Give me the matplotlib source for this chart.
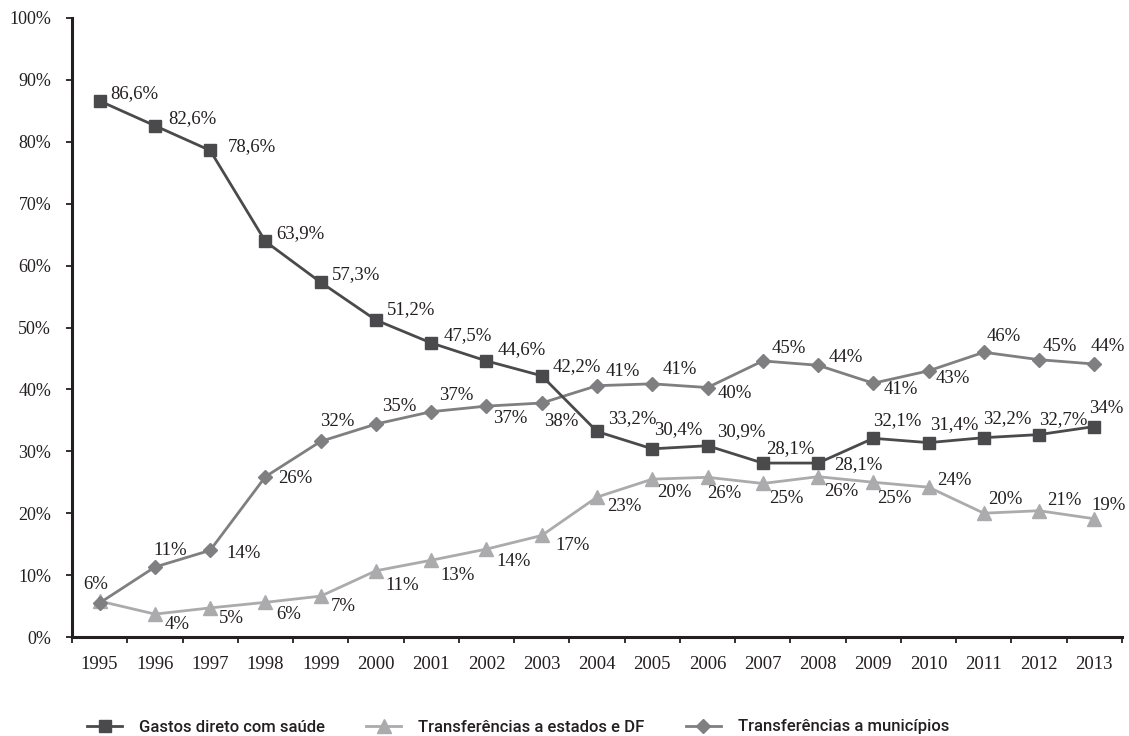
import numpy as np
import matplotlib
matplotlib.use("Agg")
import matplotlib.pyplot as plt
from matplotlib.ticker import FixedLocator, MultipleLocator

anos = ["1995", "1996", "1997", "1998", "1999", "2000", "2001", "2002", "2003", "2004",
        "2005", "2006", "2007", "2008", "2009", "2010", "2011", "2012", "2013"]

gastos = [86.6, 82.6, 78.6, 63.9, 57.3, 51.2, 47.5, 44.6, 42.2, 33.2,
          30.4, 30.9, 28.1, 28.1, 32.1, 31.4, 32.2, 32.7, 34.0]
gastos_txt = ["86,6%", "82,6%", "78,6%", "63,9%", "57,3%", "51,2%", "47,5%", "44,6%", "42,2%", "33,2%",
              "30,4%", "30,9%", "28,1%", "28,1%", "32,1%", "31,4%", "32,2%", "32,7%", "34%"]

estados = [5.8, 3.7, 4.7, 5.6, 6.6, 10.7, 12.4, 14.2, 16.4, 22.6,
           25.5, 25.8, 24.8, 25.9, 25.0, 24.2, 20.0, 20.4, 19.1]
estados_txt = ["", "4%", "5%", "6%", "7%", "11%", "13%", "14%", "17%", "23%",
               "20%", "26%", "25%", "26%", "25%", "24%", "20%", "21%", "19%"]

municipios = [5.5, 11.3, 14.0, 25.9, 31.6, 34.4, 36.4, 37.3, 37.8, 40.6,
              40.9, 40.3, 44.6, 43.9, 41.0, 43.0, 46.0, 44.8, 44.1]
municipios_txt = ["6%", "11%", "14%", "26%", "32%", "35%", "37%", "37%", "38%", "41%",
                  "41%", "40%", "45%", "44%", "41%", "43%", "46%", "45%", "44%"]

# label offsets in pixels (dx right, dy up)
off_g = [(11, 7), (13, 7), (18, 4), (11, 8), (11, 8), (11, 10), (12, 7), (11, 11), (11, 9), (11, 13),
         (2, 19), (10, 14), (3, 14), (16, -2), (0, 18), (1, 18), (-1, 19), (0, 15), (-5, 18)]
off_e = [(0, 0), (10, -10), (9, -11), (11, -12), (10, -10), (9, -15), (9, -15), (10, -12), (14, -10), (10, -9),
         (5, -13), (0, -16), (6, -15), (6, -15), (4, -16), (9, 7), (4, 14), (8, 10), (-3, 13)]
off_m = [(-16, 18), (-1, 17), (16, -3), (13, -2), (-1, 20), (6, 18), (8, 16), (7, -12), (2, -18), (9, 14),
         (10, 14), (10, -6), (9, 12), (11, 8), (10, -6), (7, -8), (3, 16), (4, 13), (-4, 18)]

cor_g = "#4a4a4c"
cor_e = "#ababad"
cor_m = "#7f7f81"
serif = "Liberation Serif"

fig = plt.figure(figsize=(11.29, 7.36), dpi=100)
ax = fig.add_axes([72 / 1129, 99 / 736, 1050 / 1129, 619 / 736])

x = np.arange(len(anos))
l1, = ax.plot(x, gastos, color=cor_g, lw=2, marker="s", ms=8, zorder=4)
l2, = ax.plot(x, estados, color=cor_e, lw=2, marker="^", ms=10, zorder=2)
l3, = ax.plot(x, municipios, color=cor_m, lw=2, marker="D", ms=7, zorder=3)

for vals, txts, offs in [(gastos, gastos_txt, off_g), (estados, estados_txt, off_e),
                         (municipios, municipios_txt, off_m)]:
    for i, (v, t, o) in enumerate(zip(vals, txts, offs)):
        if t:
            ax.annotate(t, (i, v), xytext=o, textcoords="offset pixels",
                        ha="left", va="center", fontsize=13.5, family=serif, color="#231f20")

ax.set_xlim(-0.5, len(anos) - 0.5)
ax.set_ylim(0, 100)
ax.set_xticks(x)
ax.set_xticklabels(anos, family=serif, fontsize=13.5, color="#231f20")
ax.xaxis.set_minor_locator(FixedLocator(np.arange(-0.5, len(anos), 1)))
ax.tick_params(axis="x", which="major", length=0, pad=14)
ax.tick_params(axis="x", which="minor", length=4, width=1.3, color="#231f20", direction="out")

ax.yaxis.set_major_locator(MultipleLocator(10))
ax.set_yticklabels([f"{int(v)}%" for v in ax.get_yticks()], family=serif, fontsize=13, color="#231f20")
ax.tick_params(axis="y", length=4, width=1.3, color="#231f20", pad=11)

for s in ["top", "right"]:
    ax.spines[s].set_visible(False)
for s in ["left", "bottom"]:
    ax.spines[s].set_linewidth(2.2)
    ax.spines[s].set_color("#231f20")

leg = fig.legend([l1, l2, l3],
                 ["Gastos direto com saúde", "Transferências a estados e DF", "Transferências a municípios"],
                 loc="center left", bbox_to_anchor=(87 / 1129, 1 - 727 / 736), ncol=3, frameon=False,
                 borderpad=0, borderaxespad=0, handlelength=2.1, handletextpad=1.0, columnspacing=2.5,
                 prop={"family": "Roboto", "size": 12, "weight": "medium"})
for t in leg.get_texts():
    t.set_color("#231f20")

plt.savefig("out.png", dpi=100)
